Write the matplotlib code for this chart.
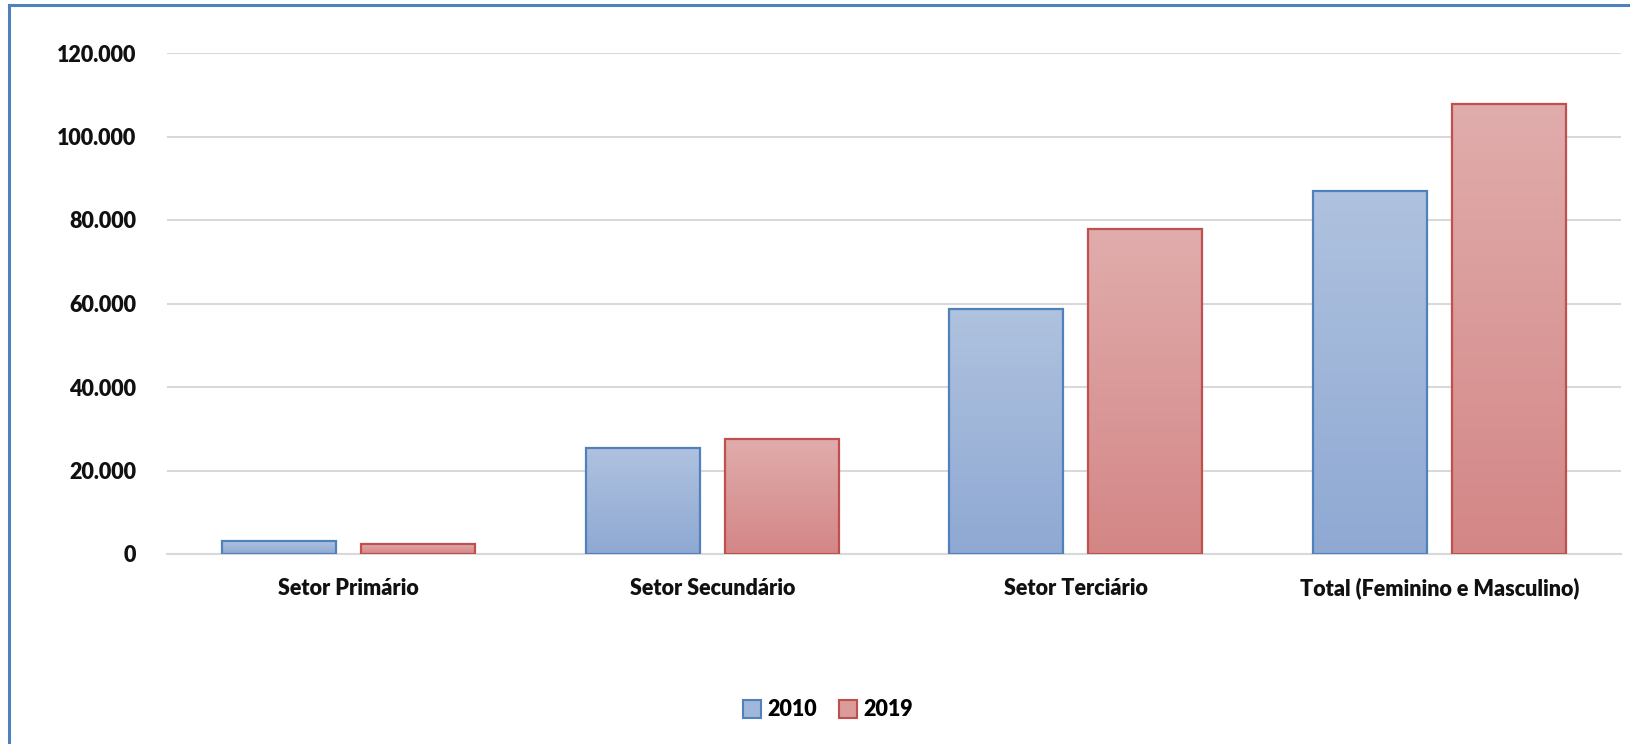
import numpy as np
import matplotlib
matplotlib.use("Agg")
import matplotlib.pyplot as plt
from matplotlib.colors import LinearSegmentedColormap
from matplotlib.patches import Patch
from matplotlib.ticker import FuncFormatter

categorias = ["Setor Primário", "Setor Secundário", "Setor Terciário",
              "Total (Feminino e Masculino)"]
anos = ["2010", "2019"]
valores_2010 = [3000, 25300, 58600, 87000]
valores_2019 = [2500, 27600, 77800, 107800]

plt.rcParams["font.family"] = ["Lato", "DejaVu Sans"]
plt.rcParams["font.weight"] = "heavy"

fig = plt.figure(figsize=(16.3, 7.44), dpi=100)
ax = fig.add_axes([167 / 1630, 1 - 554 / 744, (1621 - 167) / 1630, (554 - 53) / 744])

# moldura do grafico (so aparece esquerda e topo)
fig.add_artist(plt.Line2D([9 / 1630, 9 / 1630], [0, 1 - 5 / 744],
                          transform=fig.transFigure, color="#4F81BD", lw=2.2))
fig.add_artist(plt.Line2D([9 / 1630, 1], [1 - 5 / 744, 1 - 5 / 744],
                          transform=fig.transFigure, color="#4F81BD", lw=2.2))

x = np.arange(len(categorias))
largura = 0.314
desloc = 0.191

series = [
    (valores_2010, -desloc, "#4F81BD", ("#8FA9D3", "#AFC2DF")),
    (valores_2019, desloc, "#C0504D", ("#D48686", "#E0ADAC")),
]

grad = np.linspace(0, 1, 256).reshape(-1, 1)
for vals, off, borda, (c_baixo, c_topo) in series:
    cmap = LinearSegmentedColormap.from_list("g", [c_baixo, c_topo])
    barras = ax.bar(x + off, vals, largura, facecolor="none", edgecolor=borda,
                    linewidth=1.6, zorder=3)
    for b in barras:
        x0, y0 = b.get_x(), b.get_y()
        w, h = b.get_width(), b.get_height()
        im = ax.imshow(grad, cmap=cmap, origin="lower", aspect="auto",
                       extent=(x0, x0 + w, y0, y0 + h), zorder=2)
        im.set_clip_path(b)

ax.set_xlim(-0.5, len(categorias) - 0.5)
ax.set_ylim(0, 120000)
ax.set_yticks(np.arange(0, 120001, 20000))
ax.yaxis.set_major_formatter(FuncFormatter(lambda v, p: f"{int(v):,}".replace(",", ".")))
ax.set_xticks(x)
ax.set_xticklabels(categorias)
ax.grid(axis="y", color="#D9D9D9", linewidth=1.5, zorder=0)
ax.set_axisbelow(True)
for s in ["top", "right", "left"]:
    ax.spines[s].set_visible(False)
ax.spines["bottom"].set_color("#D9D9D9")
ax.spines["bottom"].set_linewidth(1.5)
ax.tick_params(axis="both", length=0, labelsize=15.5, colors="#111111")
ax.tick_params(axis="y", pad=22)
ax.tick_params(axis="x", pad=17)

handles = [Patch(facecolor="#A0B6DA", edgecolor="#4F81BD", lw=1.5),
           Patch(facecolor="#DA9B9A", edgecolor="#C0504D", lw=1.5)]
fig.legend(handles, anos, loc="center", bbox_to_anchor=(0.508, 1 - 710 / 744),
           ncol=2, frameon=False, fontsize=15.5, handlelength=0.85,
           handleheight=0.85, handletextpad=0.3, columnspacing=1.0)

fig.savefig("out.png", dpi=100)
